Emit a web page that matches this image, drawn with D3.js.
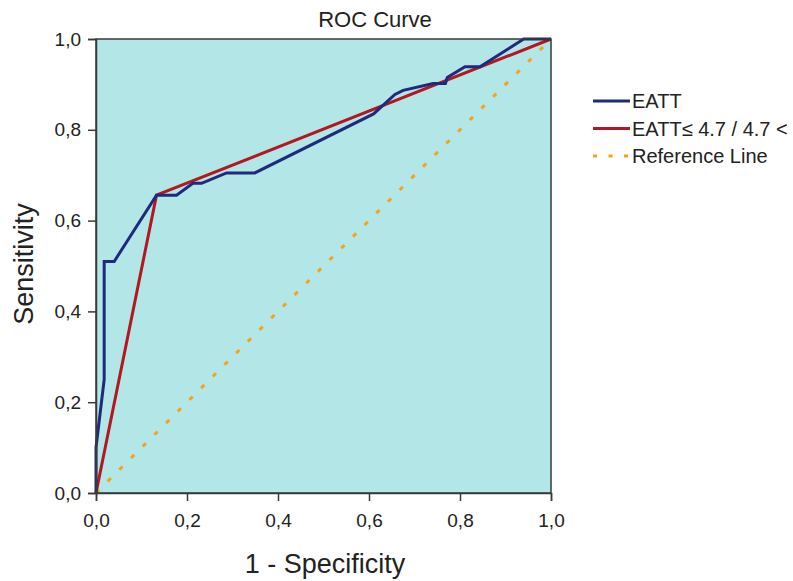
<!DOCTYPE html>
<html>
<head>
<meta charset="utf-8">
<script src="https://cdn.jsdelivr.net/npm/d3@7"></script>
<style>
  body { margin: 0; background: #fff; }
  text { font-family: "Liberation Sans", Arial, sans-serif; fill: #222; }
</style>
</head>
<body>
<svg></svg>
<script>
// chart size and plot box
const W = 793, H = 581;
const margin = { top: 39, right: 242, bottom: 88, left: 96 };
const width = W - margin.left - margin.right;
const height = H - margin.top - margin.bottom;

// data
const ticks = [0, 0.2, 0.4, 0.6, 0.8, 1.0];
const eattFpr = [0, 0, 0.018, 0.018, 0.04, 0.133, 0.177, 0.213, 0.232, 0.287, 0.349, 0.61, 0.657, 0.675, 0.741, 0.768, 0.772, 0.811, 0.844, 0.94, 1.0];
const eattTpr = [0, 0.10, 0.25, 0.51, 0.51, 0.656, 0.656, 0.682, 0.682, 0.705, 0.705, 0.835, 0.878, 0.887, 0.902, 0.902, 0.915, 0.939, 0.939, 1.0, 1.0];
const cutFpr = [0, 0.133, 1.0];
const cutTpr = [0, 0.656, 1.0];
const refFpr = [0, 1];
const refTpr = [0, 1];

const series = [
  { name: "EATT", fpr: eattFpr, tpr: eattTpr, color: "#1f2a7f", dash: null },
  { name: "EATT\u2264 4.7 / 4.7 <", fpr: cutFpr, tpr: cutTpr, color: "#b3171f", dash: null },
  { name: "Reference Line", fpr: refFpr, tpr: refTpr, color: "#f7a21b", dash: "4.5,12" }
];

const svg = d3.select("svg").attr("width", W).attr("height", H);

const x = d3.scaleLinear().domain([0, 1]).range([0, width]);
const y = d3.scaleLinear().domain([0, 1]).range([height, 0]);
const fmt = d => d3.format(".1f")(d).replace(".", ",");

const plot = svg.append("g").attr("transform", `translate(${margin.left},${margin.top})`);

plot.append("rect")
  .attr("width", width).attr("height", height)
  .attr("fill", "#b3e6e7");

const line = d3.line().x(d => x(d[0])).y(d => y(d[1]));

// reference first, then cut-off line, then the curve on top
[series[2], series[1], series[0]].forEach(s => {
  const pts = s.fpr.map((f, i) => [f, s.tpr[i]]);
  plot.append("path")
    .attr("d", line(pts))
    .attr("fill", "none")
    .attr("stroke", s.color)
    .attr("stroke-width", 3)
    .attr("stroke-dasharray", s.dash);
});

plot.append("rect")
  .attr("width", width).attr("height", height)
  .attr("fill", "none")
  .attr("stroke", "#3a3a3a").attr("stroke-width", 1.5);

// axes
const xAxis = plot.append("g")
  .attr("transform", `translate(0,${height})`)
  .call(d3.axisBottom(x).tickValues(ticks).tickFormat(fmt).tickSize(8).tickPadding(13));
const yAxis = plot.append("g")
  .call(d3.axisLeft(y).tickValues(ticks).tickFormat(fmt).tickSize(8).tickPadding(7));
[xAxis, yAxis].forEach(a => {
  a.select(".domain").attr("stroke", "#3a3a3a").attr("stroke-width", 1.5);
  a.selectAll(".tick line").attr("stroke", "#3a3a3a").attr("stroke-width", 1.5);
  a.selectAll("text").attr("font-size", 19).attr("fill", "#222")
    .style("font-family", "'Liberation Sans', Arial, sans-serif");
});

// titles
svg.append("text")
  .attr("x", 375).attr("y", 27)
  .attr("text-anchor", "middle").attr("font-size", 22)
  .text("ROC Curve");

svg.append("text")
  .attr("x", 325).attr("y", 573)
  .attr("text-anchor", "middle").attr("font-size", 27)
  .text("1 - Specificity");

svg.append("text")
  .attr("transform", `translate(33,264) rotate(-90)`)
  .attr("text-anchor", "middle").attr("font-size", 27)
  .text("Sensitivity");

// legend
const legend = svg.append("g").attr("transform", "translate(593,101)");
series.forEach((s, i) => {
  const g = legend.append("g").attr("transform", `translate(0,${i * 27.5})`);
  g.append("line")
    .attr("x1", 0).attr("x2", 37).attr("y1", 0).attr("y2", 0)
    .attr("stroke", s.color).attr("stroke-width", 3)
    .attr("stroke-dasharray", s.dash ? "4,11.5" : null);
  g.append("text")
    .attr("x", 39).attr("y", 7).attr("font-size", 20)
    .text(s.name);
});
</script>
</body>
</html>
